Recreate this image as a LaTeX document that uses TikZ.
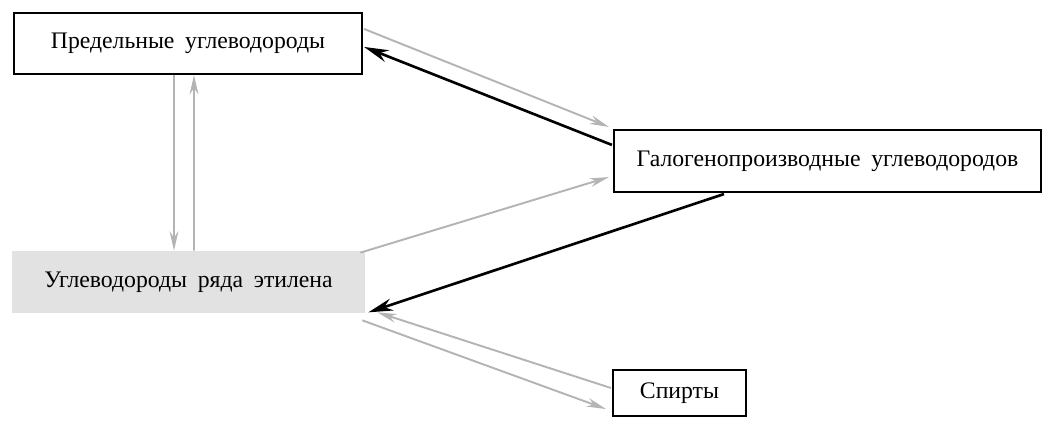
\documentclass[tikz,border=0pt]{standalone}
\usepackage{fontspec}
\setmainfont{Liberation Serif}
\usetikzlibrary{arrows.meta,calc}
\definecolor{lightarrow}{HTML}{B4B4B4}
\definecolor{shade}{HTML}{E2E2E2}
\newcommand{\wsp}{\hspace{0.45em}}
\begin{document}
\begin{tikzpicture}[x=0.02cm,y=-0.02cm,
  box/.style={draw=black,line width=1.2pt,fill=white,inner sep=0pt,font=\fontsize{13.5}{16}\selectfont},
  shadebox/.style={fill=shade,draw=none,inner sep=0pt,font=\fontsize{13.5}{16}\selectfont},
  graylink/.style={draw=lightarrow,line width=1.1pt,-{Stealth[length=11pt,width=5pt]}},
  blacklink/.style={draw=black,line width=1.5pt,-{Stealth[length=14pt,width=7pt]}}]
\useasboundingbox (0,0) rectangle (1047,425);
\node[box,minimum width=348*0.02cm,minimum height=61*0.02cm] (b1) at (188,43.5) {Предельные\wsp углеводороды};
\node[box,minimum width=427*0.02cm,minimum height=62*0.02cm] (b2) at (827.5,161) {Галогенопроизводные\wsp углеводородов};
\node[shadebox,minimum width=353*0.02cm,minimum height=62*0.02cm] (b3) at (188.5,282) {Углеводороды\wsp ряда\wsp этилена};
\node[box,minimum width=133*0.02cm,minimum height=46*0.02cm] (b4) at (679.5,393) {Спирты};
\draw[graylink] ($(b1.north east)+(1,17)$) -- ($(b2.north west)+(-4,-2)$);
\draw[blacklink] ($(b2.north west)+(-1,16)$) -- ($(b1.north east)+(1,35)$);
\draw[graylink] ($(b1.south)+(-14,0)$) -- ($(b3.north)+(-14.5,0)$);
\draw[graylink] ($(b3.north)+(5.5,0)$) -- ($(b1.south)+(6,0)$);
\draw[graylink] ($(b3.north east)+(-5,2)$) -- ($(b2.south west)+(-4,-16)$);
\draw[blacklink] ($(b2.south west)+(111,1)$) -- ($(b3.south east)+(3,-1)$);
\draw[graylink] ($(b4.west)+(-1,-5)$) -- ($(b3.south east)+(12,-1)$);
\draw[graylink] ($(b3.south east)+(-3,7)$) -- ($(b4.west)+(-6,16)$);
\end{tikzpicture}
\end{document}
